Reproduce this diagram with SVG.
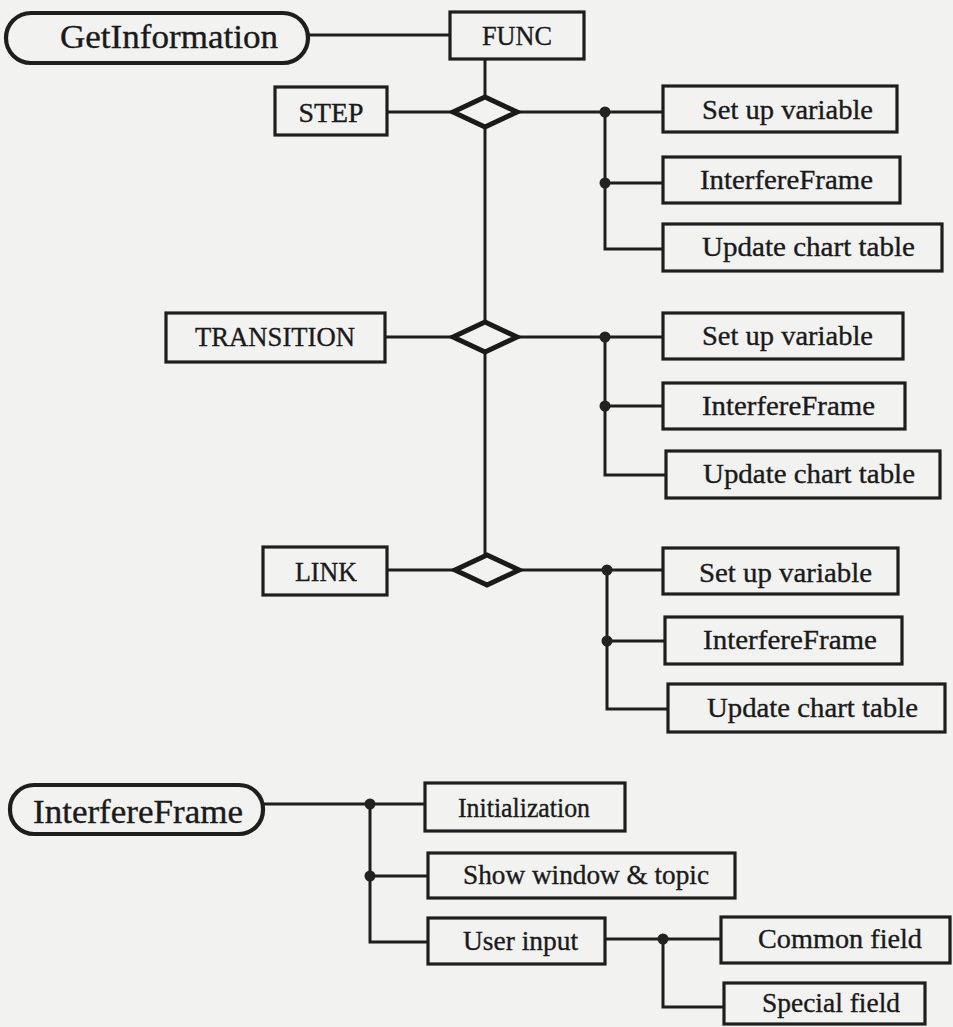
<svg xmlns="http://www.w3.org/2000/svg" width="953" height="1027" viewBox="0 0 953 1027">
  <style>
    .bg { fill: #f2f2f1; }
    .box { fill: #f2f2f1; stroke: #1e1e1e; stroke-width: 3.2; }
    .pill { fill: #f2f2f1; stroke: #1e1e1e; stroke-width: 4.2; }
    .dia { fill: #f2f2f1; stroke: #1a1a1a; stroke-width: 5; stroke-linejoin: miter; }
    .wire { fill: none; stroke: #1e1e1e; stroke-width: 3; }
    .dot { fill: #222; }
    text { font-family: "Liberation Serif", "Times New Roman", serif; fill: #1a1a1a; stroke: #1a1a1a; stroke-width: 0.35; }
    .cap { font-size: 27px; text-anchor: middle; }
    .lbl { font-size: 27px; }
    .big { font-size: 33px; text-anchor: middle; }
  </style>

  <rect class="bg" x="0" y="0" width="953" height="1027"/>

  <!-- connectors -->
  <g id="connectors">
    <!-- GetInformation tree -->
    <path class="wire" d="M308 35 H450"/>
    <path class="wire" d="M485 59 V556"/>
    <!-- STEP -->
    <path class="wire" d="M387 112 H453"/>
    <path class="wire" d="M517 112 H663"/>
    <path class="wire" d="M605 112 V249 H663"/>
    <path class="wire" d="M605 183 H663"/>
    <circle class="dot" cx="605" cy="112" r="5.5"/>
    <circle class="dot" cx="605" cy="183" r="5.5"/>
    <!-- TRANSITION -->
    <path class="wire" d="M385 337 H453"/>
    <path class="wire" d="M517 337 H663"/>
    <path class="wire" d="M605 337 V475 H666"/>
    <path class="wire" d="M605 406 H663"/>
    <circle class="dot" cx="605" cy="337" r="5.5"/>
    <circle class="dot" cx="605" cy="406" r="5.5"/>
    <!-- LINK -->
    <path class="wire" d="M387 570 H455"/>
    <path class="wire" d="M519 570 H663"/>
    <path class="wire" d="M607 570 V709 H668"/>
    <path class="wire" d="M607 641 H665"/>
    <circle class="dot" cx="607" cy="570" r="5.5"/>
    <circle class="dot" cx="607" cy="641" r="5.5"/>
    <!-- InterfereFrame tree -->
    <path class="wire" d="M263 804 H425"/>
    <path class="wire" d="M370 804 V942 H428"/>
    <path class="wire" d="M370 876 H428"/>
    <circle class="dot" cx="370" cy="804" r="5.5"/>
    <circle class="dot" cx="370" cy="876" r="5.5"/>
    <path class="wire" d="M605 939 H721"/>
    <path class="wire" d="M663 939 V1007 H724"/>
    <circle class="dot" cx="663" cy="939" r="5.5"/>
  </g>

  <!-- top tree -->
  <g id="getinformation">
    <rect class="pill" x="6" y="13" width="302" height="50" rx="25"/>
    <text class="big" x="169" y="48" textLength="218" lengthAdjust="spacingAndGlyphs">GetInformation</text>
  </g>
  <g id="func">
    <rect class="box" x="450" y="12" width="134" height="47"/>
    <text class="cap" x="517" y="45" textLength="70" lengthAdjust="spacingAndGlyphs">FUNC</text>
  </g>

  <g id="step">
    <rect class="box" x="275" y="87" width="112" height="48"/>
    <text class="cap" x="331" y="122" textLength="65" lengthAdjust="spacingAndGlyphs">STEP</text>
  </g>
  <g id="step-diamond">
    <polygon class="dia" points="453,112 485,97 517,112 485,127"/>
  </g>
  <g id="step-setup">
    <rect class="box" x="663" y="86" width="234" height="46"/>
    <text class="lbl" x="702" y="119" textLength="171" lengthAdjust="spacingAndGlyphs">Set up variable</text>
  </g>
  <g id="step-interfere">
    <rect class="box" x="663" y="157" width="237" height="46"/>
    <text class="lbl" x="700" y="189" textLength="173" lengthAdjust="spacingAndGlyphs">InterfereFrame</text>
  </g>
  <g id="step-update">
    <rect class="box" x="663" y="224" width="279" height="47"/>
    <text class="lbl" x="702" y="256" textLength="213" lengthAdjust="spacingAndGlyphs">Update chart table</text>
  </g>

  <g id="transition">
    <rect class="box" x="166" y="313" width="219" height="49"/>
    <text class="cap" x="275" y="346" textLength="160" lengthAdjust="spacingAndGlyphs">TRANSITION</text>
  </g>
  <g id="transition-diamond">
    <polygon class="dia" points="453,337 485,322 517,337 485,352"/>
  </g>
  <g id="transition-setup">
    <rect class="box" x="663" y="313" width="240" height="46"/>
    <text class="lbl" x="702" y="345" textLength="171" lengthAdjust="spacingAndGlyphs">Set up variable</text>
  </g>
  <g id="transition-interfere">
    <rect class="box" x="663" y="383" width="242" height="46"/>
    <text class="lbl" x="702" y="415" textLength="173" lengthAdjust="spacingAndGlyphs">InterfereFrame</text>
  </g>
  <g id="transition-update">
    <rect class="box" x="666" y="451" width="274" height="47"/>
    <text class="lbl" x="703" y="483" textLength="212" lengthAdjust="spacingAndGlyphs">Update chart table</text>
  </g>

  <g id="link">
    <rect class="box" x="263" y="547" width="124" height="48"/>
    <text class="cap" x="326" y="581" textLength="62" lengthAdjust="spacingAndGlyphs">LINK</text>
  </g>
  <g id="link-diamond">
    <polygon class="dia" points="455,570 487,555 519,570 487,585"/>
  </g>
  <g id="link-setup">
    <rect class="box" x="663" y="548" width="235" height="46"/>
    <text class="lbl" x="699" y="582" textLength="173" lengthAdjust="spacingAndGlyphs">Set up variable</text>
  </g>
  <g id="link-interfere">
    <rect class="box" x="665" y="617" width="237" height="47"/>
    <text class="lbl" x="703" y="649" textLength="174" lengthAdjust="spacingAndGlyphs">InterfereFrame</text>
  </g>
  <g id="link-update">
    <rect class="box" x="668" y="684" width="277" height="48"/>
    <text class="lbl" x="707" y="717" textLength="211" lengthAdjust="spacingAndGlyphs">Update chart table</text>
  </g>

  <!-- InterfereFrame tree -->
  <g id="interfereframe">
    <rect class="pill" x="10" y="785" width="253" height="49" rx="24"/>
    <text class="big" x="138" y="823" textLength="210" lengthAdjust="spacingAndGlyphs">InterfereFrame</text>
  </g>
  <g id="initialization">
    <rect class="box" x="425" y="783" width="200" height="48"/>
    <text class="lbl" x="458" y="817" textLength="132" lengthAdjust="spacingAndGlyphs">Initialization</text>
  </g>
  <g id="show-window">
    <rect class="box" x="428" y="853" width="307" height="45"/>
    <text class="lbl" x="463" y="884" textLength="246" lengthAdjust="spacingAndGlyphs">Show window &amp; topic</text>
  </g>
  <g id="user-input">
    <rect class="box" x="428" y="918" width="177" height="46"/>
    <text class="lbl" x="463" y="950" textLength="115" lengthAdjust="spacingAndGlyphs">User input</text>
  </g>
  <g id="common-field">
    <rect class="box" x="721" y="917" width="229" height="46"/>
    <text class="lbl" x="758" y="948" textLength="164" lengthAdjust="spacingAndGlyphs">Common field</text>
  </g>
  <g id="special-field">
    <rect class="box" x="724" y="983" width="201" height="41"/>
    <text class="lbl" x="762" y="1012" textLength="138" lengthAdjust="spacingAndGlyphs">Special field</text>
  </g>
</svg>
